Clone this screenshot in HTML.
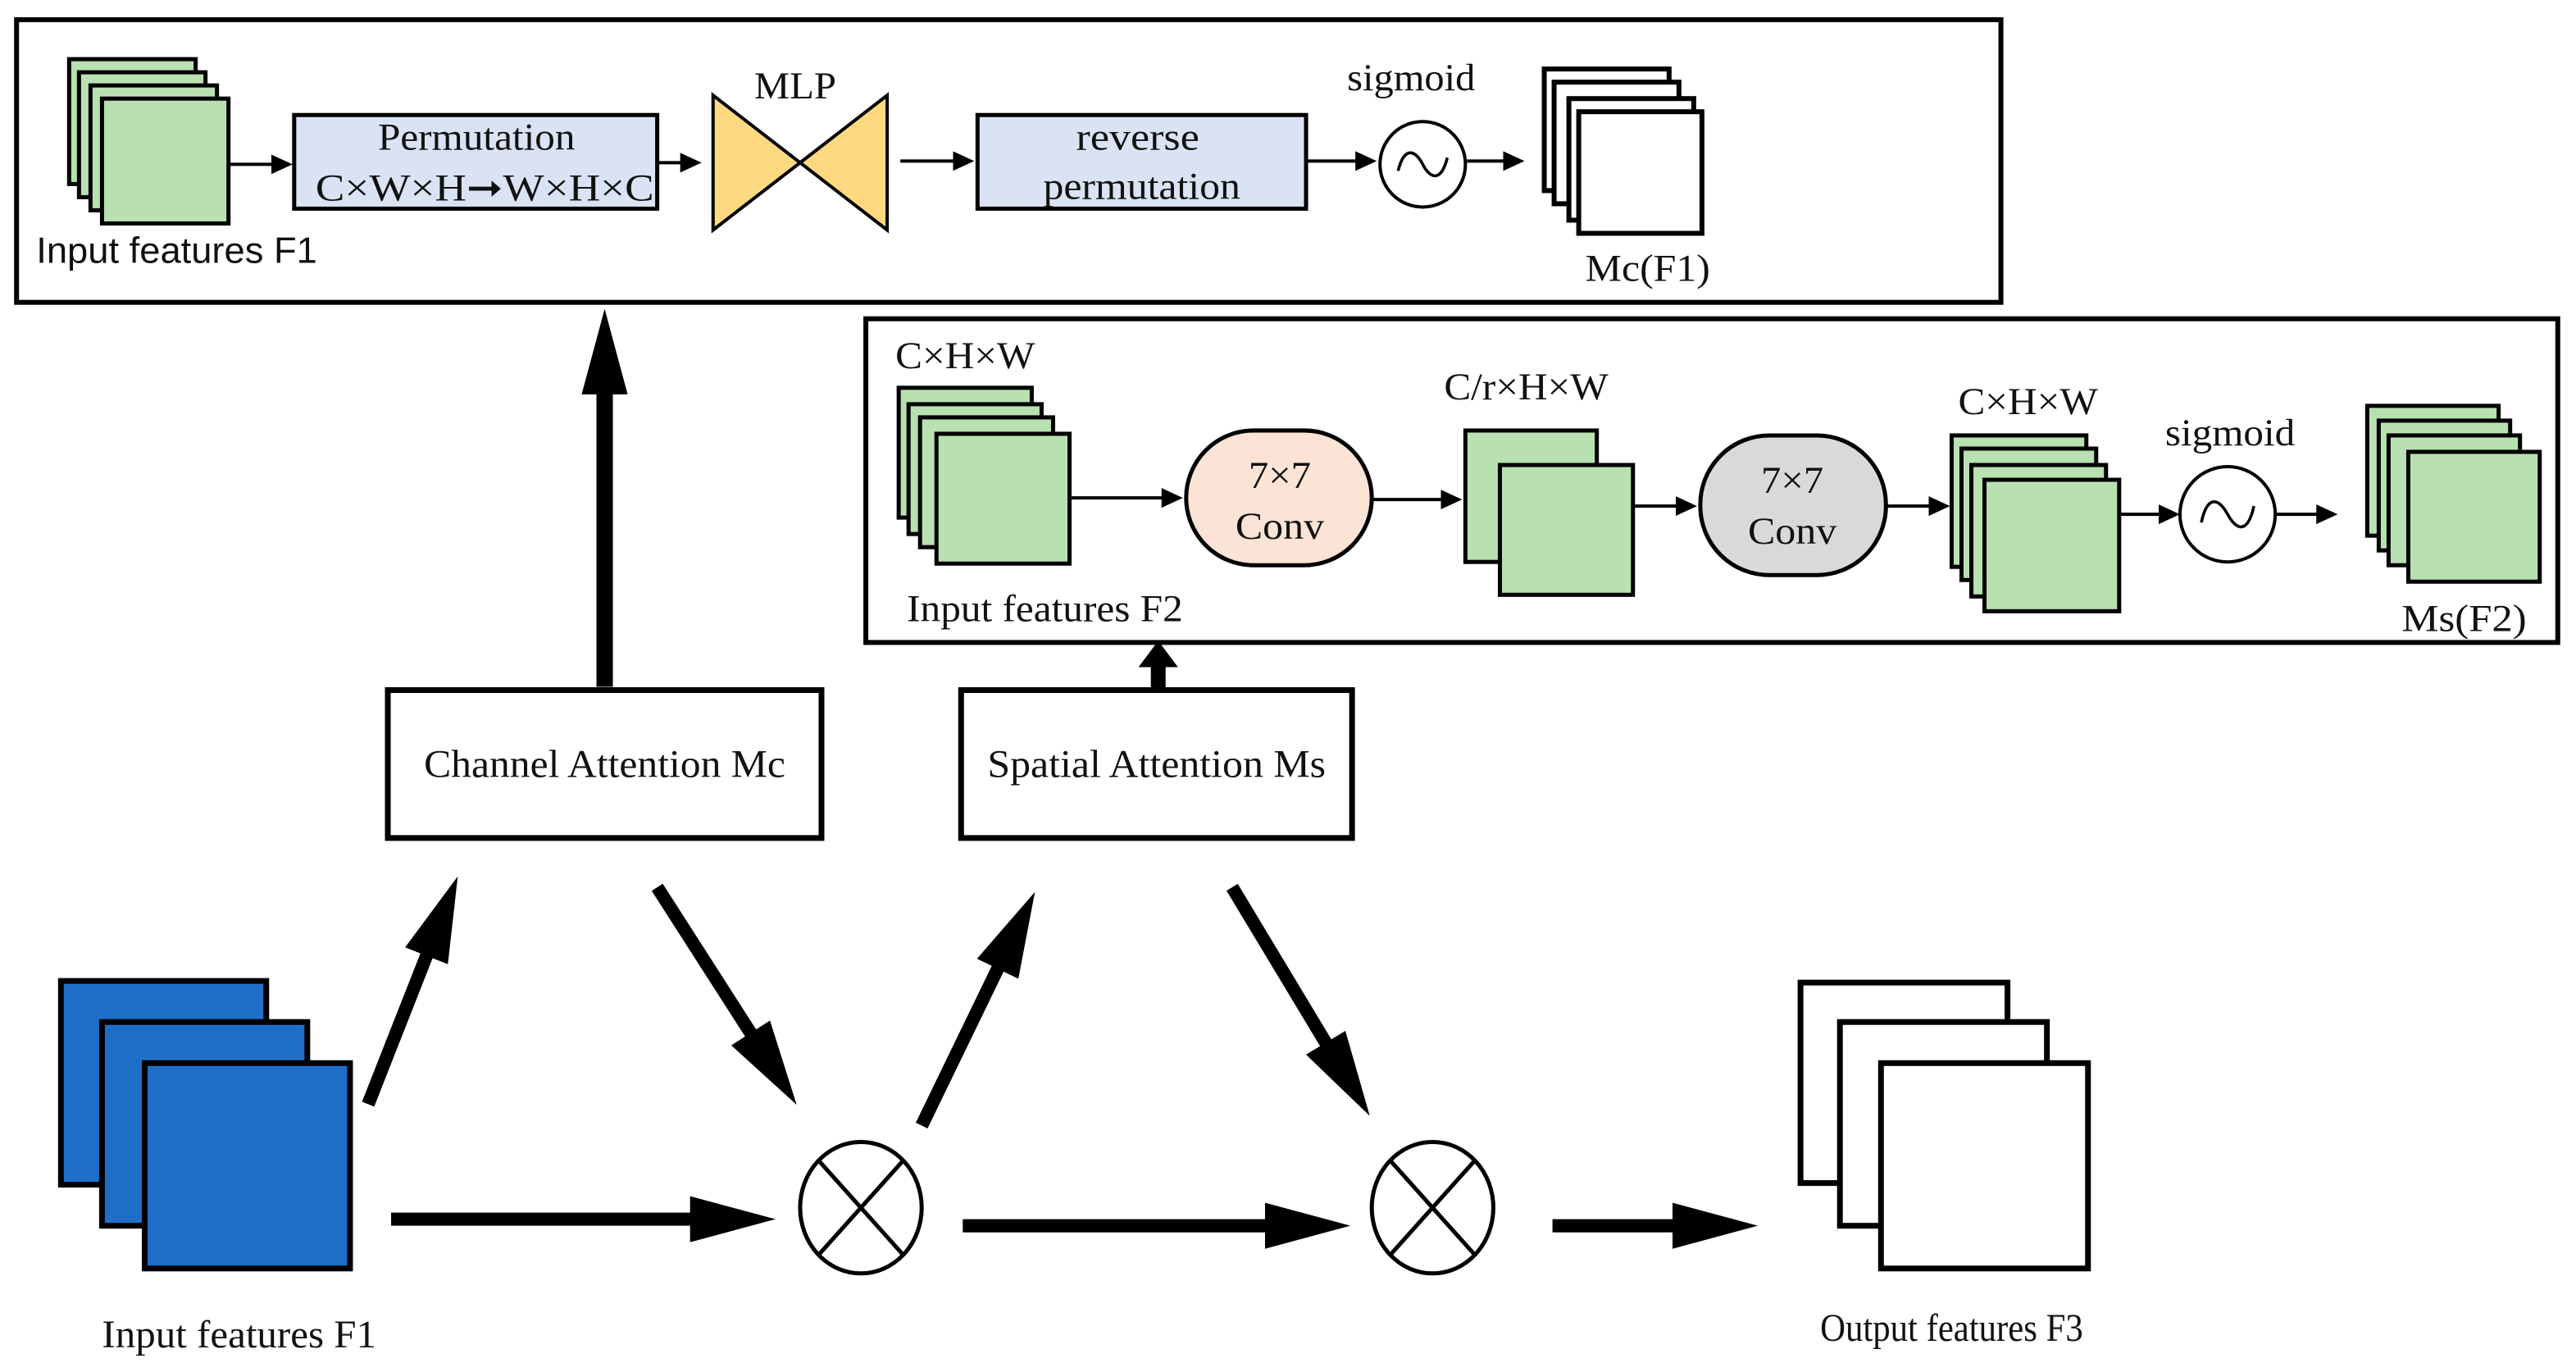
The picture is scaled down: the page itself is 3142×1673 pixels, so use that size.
<!DOCTYPE html>
<html><head><meta charset="utf-8"><style>
html,body{margin:0;padding:0;background:#fff;}
svg{display:block;}
text{font-family:"Liberation Serif",serif;fill:#111;}
</style></head><body>
<svg width="3142" height="1673" viewBox="0 0 1568 835" xmlns="http://www.w3.org/2000/svg">
<defs>
<marker id="th" markerUnits="userSpaceOnUse" markerWidth="54" markerHeight="30" refX="4" refY="15" orient="auto"><path d="M0,1 L52,15 L0,29 z" fill="#000"/></marker>
<marker id="sm" markerUnits="userSpaceOnUse" markerWidth="14" markerHeight="14" refX="1" refY="7" orient="auto"><path d="M0,1 L13,7 L0,13 z" fill="#000"/></marker>
</defs>
<rect width="1568" height="835" fill="#fff"/>

<!-- top box -->
<rect x="10" y="12" width="1208" height="172" fill="#fff" stroke="#000" stroke-width="3"/>
<g fill="#b8e0b0" stroke="#000" stroke-width="2.5">
<rect x="42" y="36" width="77" height="76"/><rect x="48" y="44" width="77" height="76"/><rect x="55" y="52" width="77" height="76"/><rect x="62" y="60" width="77" height="76"/>
</g>
<text x="22" y="160" font-size="22" textLength="171" lengthAdjust="spacingAndGlyphs" style="font-family:'Liberation Sans',sans-serif">Input features F1</text>
<line x1="139" y1="100" x2="166" y2="100" stroke="#000" stroke-width="2" marker-end="url(#sm)"/>
<rect x="179" y="70" width="221" height="57" fill="#dae3f3" stroke="#000" stroke-width="2.5"/>
<text x="230" y="91" font-size="23" textLength="120" lengthAdjust="spacingAndGlyphs">Permutation</text>
<text x="192" y="122" font-size="23" textLength="206" lengthAdjust="spacingAndGlyphs">C×W×H➞W×H×C</text>
<line x1="400" y1="99" x2="415" y2="99" stroke="#000" stroke-width="2" marker-end="url(#sm)"/>
<path d="M434,58 L434,140 L487,99 z M540,58 L540,140 L487,99 z" fill="#ffd980" stroke="#000" stroke-width="2"/>
<text x="459" y="60" font-size="23" textLength="50" lengthAdjust="spacingAndGlyphs">MLP</text>
<line x1="548" y1="98" x2="581" y2="98" stroke="#000" stroke-width="2" marker-end="url(#sm)"/>
<rect x="595" y="70" width="200" height="57" fill="#dae3f3" stroke="#000" stroke-width="2.5"/>
<text x="655" y="91" font-size="23" textLength="75" lengthAdjust="spacingAndGlyphs">reverse</text>
<text x="635" y="121" font-size="23" textLength="120" lengthAdjust="spacingAndGlyphs">permutation</text>
<line x1="795" y1="98" x2="826" y2="98" stroke="#000" stroke-width="2" marker-end="url(#sm)"/>
<circle cx="866" cy="100" r="26" fill="#fff" stroke="#000" stroke-width="2"/>
<path d="M851,104 C855,88 862,92 866,100 C870,108 877,112 881,96" fill="none" stroke="#000" stroke-width="1.8"/>
<text x="820" y="55" font-size="23" textLength="78" lengthAdjust="spacingAndGlyphs">sigmoid</text>
<line x1="893" y1="98" x2="916" y2="98" stroke="#000" stroke-width="2" marker-end="url(#sm)"/>
<g fill="#fff" stroke="#000" stroke-width="3">
<rect x="940" y="42" width="76" height="74"/><rect x="946" y="50" width="76" height="74"/><rect x="955" y="60" width="76" height="74"/><rect x="961" y="68" width="75" height="74"/>
</g>
<text x="965" y="171" font-size="23" textLength="76" lengthAdjust="spacingAndGlyphs">Mc(F1)</text>

<!-- second box -->
<rect x="527" y="194" width="1030" height="197" fill="#fff" stroke="#000" stroke-width="3"/>
<text x="545" y="224" font-size="23" textLength="85" lengthAdjust="spacingAndGlyphs">C×H×W</text>
<g fill="#b8e0b0" stroke="#000" stroke-width="2.5">
<rect x="547" y="236" width="81" height="79"/><rect x="553" y="246" width="81" height="79"/><rect x="560" y="254" width="81" height="79"/><rect x="570" y="264" width="81" height="79"/>
</g>
<text x="552" y="378" font-size="23" textLength="168" lengthAdjust="spacingAndGlyphs">Input features F2</text>
<line x1="651" y1="303" x2="708" y2="303" stroke="#000" stroke-width="2" marker-end="url(#sm)"/>
<rect x="722" y="262" width="113" height="82" rx="41" fill="#fbe3d5" stroke="#000" stroke-width="2.5"/>
<text x="760" y="297" font-size="23" textLength="38" lengthAdjust="spacingAndGlyphs">7×7</text>
<text x="752" y="328" font-size="23" textLength="54" lengthAdjust="spacingAndGlyphs">Conv</text>
<line x1="835" y1="304" x2="878" y2="304" stroke="#000" stroke-width="2" marker-end="url(#sm)"/>
<g fill="#b8e0b0" stroke="#000" stroke-width="2.5">
<rect x="892" y="262" width="80" height="80"/><rect x="913" y="283" width="81" height="79"/>
</g>
<text x="879" y="243" font-size="23" textLength="100" lengthAdjust="spacingAndGlyphs">C/r×H×W</text>
<line x1="994" y1="308" x2="1021" y2="308" stroke="#000" stroke-width="2" marker-end="url(#sm)"/>
<rect x="1035" y="265" width="113" height="85" rx="42" fill="#d9d9d9" stroke="#000" stroke-width="2.5"/>
<text x="1072" y="300" font-size="23" textLength="38" lengthAdjust="spacingAndGlyphs">7×7</text>
<text x="1064" y="331" font-size="23" textLength="54" lengthAdjust="spacingAndGlyphs">Conv</text>
<line x1="1148" y1="308" x2="1175" y2="308" stroke="#000" stroke-width="2" marker-end="url(#sm)"/>
<g fill="#b8e0b0" stroke="#000" stroke-width="2.5">
<rect x="1188" y="265" width="82" height="80"/><rect x="1194" y="273" width="82" height="80"/><rect x="1200" y="283" width="82" height="80"/><rect x="1208" y="292" width="82" height="80"/>
</g>
<text x="1192" y="252" font-size="23" textLength="85" lengthAdjust="spacingAndGlyphs">C×H×W</text>
<line x1="1290" y1="313" x2="1315" y2="313" stroke="#000" stroke-width="2" marker-end="url(#sm)"/>
<circle cx="1356" cy="313" r="29" fill="#fff" stroke="#000" stroke-width="2"/>
<path d="M1340,318 C1344,300 1351,304 1356,313 C1361,322 1368,326 1372,308" fill="none" stroke="#000" stroke-width="1.8"/>
<text x="1318" y="271" font-size="23" textLength="79" lengthAdjust="spacingAndGlyphs">sigmoid</text>
<line x1="1385" y1="313" x2="1411" y2="313" stroke="#000" stroke-width="2" marker-end="url(#sm)"/>
<g fill="#b8e0b0" stroke="#000" stroke-width="2.5">
<rect x="1441" y="247" width="80" height="79"/><rect x="1448" y="256" width="80" height="79"/><rect x="1454" y="265" width="80" height="79"/><rect x="1466" y="275" width="80" height="79"/>
</g>
<text x="1462" y="384" font-size="23" textLength="76" lengthAdjust="spacingAndGlyphs">Ms(F2)</text>

<!-- attention boxes -->
<line x1="368" y1="418" x2="368" y2="236" stroke="#000" stroke-width="10" marker-end="url(#th)"/>
<rect x="236" y="420" width="264" height="90" fill="#fff" stroke="#000" stroke-width="3.5"/>
<text x="258" y="473" font-size="24" textLength="220" lengthAdjust="spacingAndGlyphs">Channel Attention Mc</text>
<line x1="705" y1="420" x2="705" y2="404" stroke="#000" stroke-width="9"/>
<path d="M693,406 L705,390 L717,406 z" fill="#000"/>
<rect x="585" y="420" width="238" height="90" fill="#fff" stroke="#000" stroke-width="3.5"/>
<text x="601" y="473" font-size="24" textLength="206" lengthAdjust="spacingAndGlyphs">Spatial Attention Ms</text>

<!-- blue stack -->
<g fill="#1f6fc8" stroke="#000" stroke-width="3.5">
<rect x="37" y="597" width="125" height="124"/><rect x="62" y="622" width="125" height="124"/><rect x="88" y="647" width="125" height="125"/>
</g>
<text x="62" y="820" font-size="24" textLength="167" lengthAdjust="spacingAndGlyphs">Input features F1</text>

<!-- thick arrows -->
<g stroke="#000" stroke-width="8" fill="none">
<line x1="224" y1="672" x2="261" y2="578" marker-end="url(#th)"/>
<line x1="400" y1="540" x2="459" y2="632" marker-end="url(#th)"/>
<line x1="238" y1="742" x2="424" y2="742" marker-end="url(#th)"/>
<line x1="561" y1="685" x2="609" y2="586" marker-end="url(#th)"/>
<line x1="750" y1="540" x2="809" y2="638" marker-end="url(#th)"/>
<line x1="586" y1="746" x2="774" y2="746" marker-end="url(#th)"/>
<line x1="945" y1="746" x2="1022" y2="746" marker-end="url(#th)"/>
</g>
<g fill="#fff" stroke="#000" stroke-width="2.5">
<ellipse cx="524" cy="735" rx="37" ry="40"/>
<ellipse cx="872" cy="735" rx="37" ry="40"/>
</g>
<g stroke="#000" stroke-width="2.5">
<line x1="498" y1="706" x2="550" y2="764"/><line x1="550" y1="706" x2="498" y2="764"/>
<line x1="846" y1="706" x2="898" y2="764"/><line x1="898" y1="706" x2="846" y2="764"/>
</g>

<!-- output stack -->
<g fill="#fff" stroke="#000" stroke-width="3.5">
<rect x="1096" y="598" width="126" height="122"/><rect x="1120" y="622" width="126" height="124"/><rect x="1145" y="647" width="126" height="125"/>
</g>
<text x="1108" y="816" font-size="24" textLength="160" lengthAdjust="spacingAndGlyphs">Output features F3</text>
</svg>
</body></html>
